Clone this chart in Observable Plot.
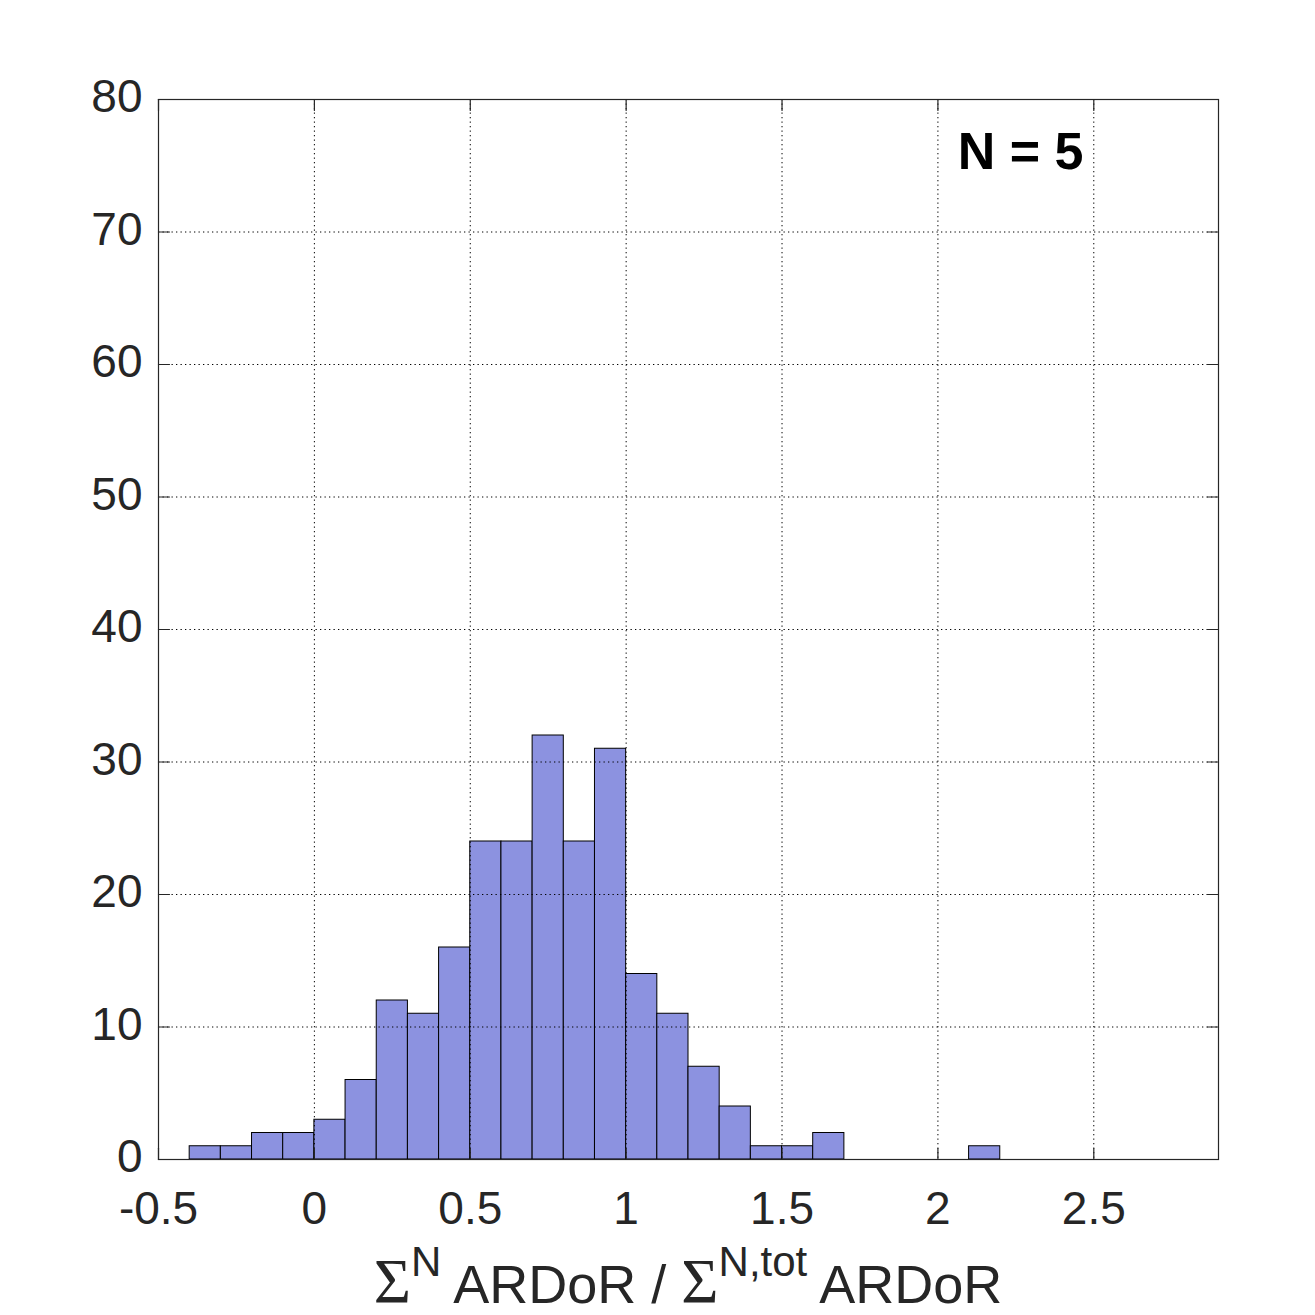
<!DOCTYPE html>
<html><head><meta charset="utf-8">
<script src="https://cdn.jsdelivr.net/npm/d3@7"></script>
<script src="https://cdn.jsdelivr.net/npm/@observablehq/plot@0.6"></script>
<style>html,body{margin:0;padding:0;background:#fff;}</style>
</head><body><div id="chart"></div>
<script>
// Histogram bins (left edges), bin width, and counts
const binStart = [-0.4,-0.3,-0.2,-0.1,0,0.1,0.2,0.3,0.4,0.5,0.6,0.7,0.8,0.9,1.0,1.1,1.2,1.3,1.4,1.5,1.6,2.1];
const binWidth = 0.1;
const counts   = [1,1,2,2,3,6,12,11,16,24,24,32,24,31,14,11,7,4,1,1,2,1];
const xTicks = [-0.5,0,0.5,1,1.5,2,2.5];
const yTicks = [0,10,20,30,40,50,60,70,80];
const xDomain = [-0.5, 2.9];
const yDomain = [0, 80];
const annotation = "N = 5";

const bins = binStart.map((s, i) => ({x1: s, x2: +(s + binWidth).toFixed(10), y: counts[i]}));
const tickLine = {draw(ctx, l) { ctx.moveTo(0, 0); ctx.lineTo(0, -l); }};
const ink = "#262626";

const chart = Plot.plot({
  width: 1315, height: 1315,
  marginLeft: 158, marginRight: 97, marginTop: 99, marginBottom: 156,
  style: {fontFamily: "'Liberation Sans', Arial, sans-serif", color: ink, background: "#fff", overflow: "visible"},
  x: {domain: xDomain},
  y: {domain: yDomain},
  marks: [
    Plot.rectX(bins, {x1: "x1", x2: "x2", y1: 0, y2: "y", fill: "#8c92e0", stroke: "#000", strokeWidth: 1}),
    Plot.gridX(xTicks, {stroke: "#000", strokeOpacity: 1, strokeWidth: 1, strokeDasharray: "1.3,3.2"}),
    Plot.gridY(yTicks, {stroke: "#000", strokeOpacity: 1, strokeWidth: 1, strokeDasharray: "1.3,3.2"}),
    Plot.frame({stroke: ink, strokeWidth: 1.2}),
    Plot.vector(xTicks, {x: d => d, y: yDomain[0], length: 11, rotate: 0, anchor: "start", shape: tickLine, stroke: ink, strokeWidth: 1.2}),
    Plot.vector(xTicks, {x: d => d, y: yDomain[1], length: 11, rotate: 180, anchor: "start", shape: tickLine, stroke: ink, strokeWidth: 1.2}),
    Plot.vector(yTicks, {x: xDomain[0], y: d => d, length: 11, rotate: 90, anchor: "start", shape: tickLine, stroke: ink, strokeWidth: 1.2}),
    Plot.vector(yTicks, {x: xDomain[1], y: d => d, length: 11, rotate: -90, anchor: "start", shape: tickLine, stroke: ink, strokeWidth: 1.2}),
    Plot.axisX(xTicks, {anchor: "bottom", tickSize: 0, tickPadding: 32, fontSize: 46, tickFormat: d => String(d), label: null, fill: ink}),
    Plot.axisY(yTicks, {anchor: "left", tickSize: 0, tickPadding: 16, dy: -2, fontSize: 46, tickFormat: d => String(d), label: null, fill: ink}),
    Plot.text([annotation], {text: d => d, frameAnchor: "top-right", textAnchor: "end", lineAnchor: "top", dx: -135, dy: 33, fontSize: 52, fontWeight: "bold", fill: "#000"})
  ]
});
document.getElementById("chart").appendChild(chart);

// x-axis label with superscripts
const xr = chart.scale("x").range;
const cx = (xr[0] + xr[1]) / 2;
const lab = d3.select(chart).append("text")
  .attr("x", cx).attr("y", 1303)
  .attr("text-anchor", "middle")
  .attr("font-size", 54)
  .attr("fill", ink)
  .attr("font-family", "'Liberation Sans', Arial, sans-serif");
const parts = [
  {t: "\u03A3", serif: true},
  {t: "N", sup: true},
  {t: " ARDoR / "},
  {t: "\u03A3", serif: true},
  {t: "N,tot", sup: true},
  {t: " ARDoR"}
];
let raised = false;
for (const p of parts) {
  const ts = lab.append("tspan").text(p.t).style("white-space", "pre");
  if (p.serif) ts.attr("font-family", "'Liberation Serif', 'Times New Roman', serif").attr("font-size", 64);
  if (p.sup) { ts.attr("font-size", 42).attr("dy", -27); raised = true; }
  else if (raised) { ts.attr("dy", 27); raised = false; }
}
</script>
</body></html>
